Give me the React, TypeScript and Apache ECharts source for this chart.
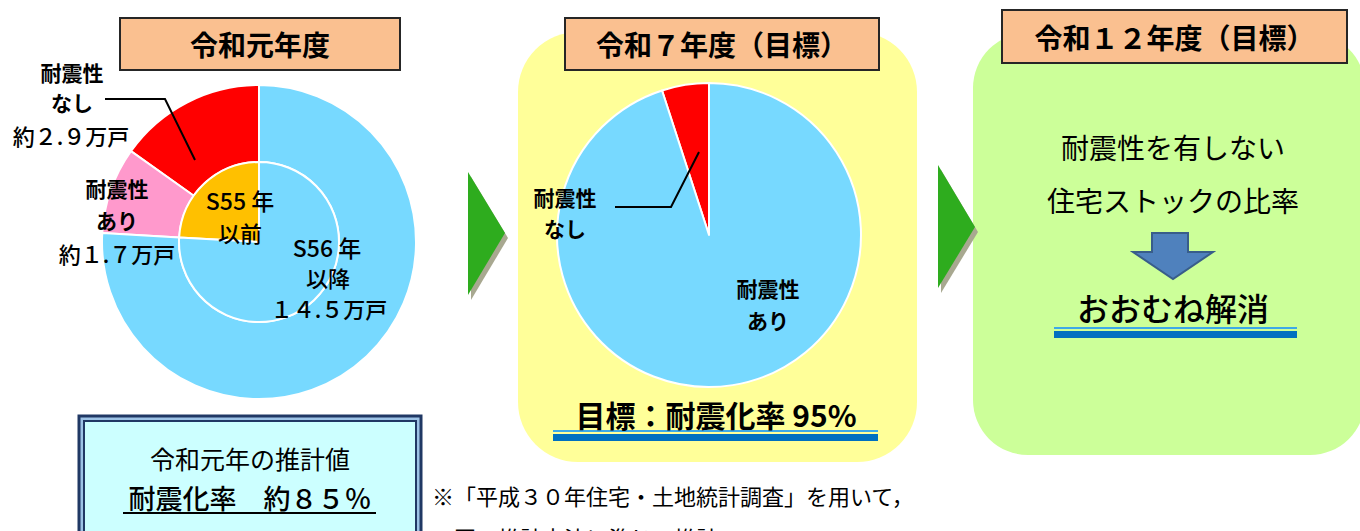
import React, { useEffect, useRef } from "react";
import * as echarts from "echarts";

// ---- data ----
const innerCategories = ["S55年以前", "S56年以降"];
const innerValues = [4.6, 14.5];
const outerCategories = ["耐震性なし", "耐震性あり", "S56年以降"];
const outerValues = [2.9, 1.7, 14.5];
const targetCategories = ["耐震性なし", "耐震性あり"];
const targetValues = [5, 95];

const panelTitles = ["令和元年度", "令和７年度（目標）", "令和１２年度（目標）"];
const leftLabels = ["耐震性", "なし", "約２.９万戸", "耐震性", "あり", "約１.７万戸", "S55 年", "以前", "S56 年", "以降", "１４.５万戸"];
const midLabels = ["耐震性", "なし", "耐震性", "あり", "目標：耐震化率 95%"];
const rightLabels = ["耐震性を有しない", "住宅ストックの比率", "おおむね解消"];
const boxLabels = ["令和元年の推計値", "耐震化率　約８５％"];
const noteLines = ["※「平成３０年住宅・土地統計調査」を用いて，", "　国の推計方法に準じて推計"];

const FONT = "'Noto Sans CJK JP', 'Noto Sans', sans-serif";
const C_BLUE = "#77D9FF";
const C_RED = "#FF0000";
const C_PINK = "#FF99CC";
const C_ORANGE = "#FFC000";

function txt(text: string, x: number, y: number, size: number, weight: string | number = "normal", align = "center") {
  return {
    type: "text",
    x,
    y,
    z: 20,
    style: {
      text,
      fontSize: size,
      fontWeight: weight,
      fontFamily: FONT,
      fill: "#000",
      align,
      verticalAlign: "middle",
      textAlign: align,
      textVerticalAlign: "middle",
    },
  };
}

function header(x: number, y: number, w: number, h: number, text: string) {
  return [
    {
      type: "rect",
      z: 15,
      shape: { x, y, width: w, height: h },
      style: { fill: "#FAC090", stroke: "#262626", lineWidth: 2 },
    },
    txt(text, x + w / 2, y + h / 2, 28, "bold"),
  ];
}

export default function App() {
  const ref = useRef<HTMLDivElement>(null);
  useEffect(() => {
    document.body.style.margin = "0";
    const chart = echarts.init(ref.current!, null, { renderer: "svg" });
    const graphics: any[] = [
      // background panels
      {
        type: "rect",
        z: 0,
        shape: { x: 518, y: 32, width: 399, height: 430, r: 60 },
        style: { fill: "#FFFF99" },
      },
      {
        type: "rect",
        z: 0,
        shape: { x: 973, y: 33, width: 392, height: 422, r: 55 },
        style: { fill: "#CCFF99" },
      },
      // green arrows with shadow
      {
        type: "polygon",
        z: 1,
        shape: { points: [[471, 177], [508, 238], [471, 300]] },
        style: { fill: "#A8A890" },
      },
      {
        type: "polygon",
        z: 2,
        shape: { points: [[468, 172], [505, 233], [468, 295]] },
        style: { fill: "#2EAC1E" },
      },
      {
        type: "polygon",
        z: 1,
        shape: { points: [[941, 170], [978, 232], [941, 293]] },
        style: { fill: "#A8A890" },
      },
      {
        type: "polygon",
        z: 2,
        shape: { points: [[938, 165], [975, 227], [938, 288]] },
        style: { fill: "#2EAC1E" },
      },
      ...header(120, 18, 280, 52, panelTitles[0]),
      ...header(565, 18, 314, 52, panelTitles[1]),
      ...header(1002, 10, 345, 53, panelTitles[2]),
      // left pie labels
      txt(leftLabels[0], 72, 72, 21, "bold"),
      txt(leftLabels[1], 72, 102, 21, "bold"),
      txt(leftLabels[2], 71, 135, 22, 500),
      txt(leftLabels[3], 117, 188, 21, "bold"),
      txt(leftLabels[4], 117, 220, 21, "bold"),
      txt(leftLabels[5], 117, 253, 22, 500),
      txt(leftLabels[6], 240, 200, 23, 500),
      txt(leftLabels[7], 240, 232, 22, 500),
      txt(leftLabels[8], 327, 247, 23, 500),
      txt(leftLabels[9], 328, 277, 22, 500),
      txt(leftLabels[10], 329, 308, 22, 500),
      {
        type: "polyline",
        z: 20,
        shape: { points: [[105, 99], [165, 99], [195, 160]] },
        style: { stroke: "#000", lineWidth: 2, fill: null },
      },
      // middle labels
      txt(midLabels[0], 565, 197, 21, "bold"),
      txt(midLabels[1], 565, 228, 21, "bold"),
      txt(midLabels[2], 768, 288, 21, "bold"),
      txt(midLabels[3], 768, 320, 21, "bold"),
      {
        type: "polyline",
        z: 20,
        shape: { points: [[615, 207], [671, 207], [699, 152]] },
        style: { stroke: "#000", lineWidth: 2, fill: null },
      },
      txt(midLabels[4], 716, 414, 30, "bold"),
      { type: "rect", z: 5, shape: { x: 553, y: 430, width: 325, height: 2 }, style: { fill: "#3DA9E8" } },
      { type: "rect", z: 5, shape: { x: 553, y: 434, width: 325, height: 7 }, style: { fill: "#0070C0" } },
      // right panel
      txt(rightLabels[0], 1173, 147, 28, "normal"),
      txt(rightLabels[1], 1173, 200, 28, "normal"),
      {
        type: "polygon",
        z: 5,
        shape: {
          points: [[1152, 233], [1188, 233], [1188, 252], [1213, 252], [1173, 279], [1133, 252], [1152, 252]],
        },
        style: { fill: "#4F81BD", stroke: "#385D8A", lineWidth: 2 },
      },
      txt(rightLabels[2], 1173, 307, 32, 500),
      { type: "rect", z: 5, shape: { x: 1054, y: 327, width: 243, height: 2 }, style: { fill: "#3DA9E8" } },
      { type: "rect", z: 5, shape: { x: 1054, y: 331, width: 243, height: 7 }, style: { fill: "#0070C0" } },
      // bottom-left box
      {
        type: "rect",
        z: 5,
        shape: { x: 79, y: 416, width: 342, height: 200 },
        style: { fill: "#9DC3E6", stroke: "#203864", lineWidth: 3 },
      },
      {
        type: "rect",
        z: 6,
        shape: { x: 84, y: 421, width: 332, height: 190 },
        style: { fill: "#CCFFFF", stroke: "#203864", lineWidth: 2 },
      },
      txt(boxLabels[0], 250, 458, 25, "normal"),
      txt(boxLabels[1], 250, 497, 27, 500),
      {
        type: "line",
        z: 20,
        shape: { x1: 123, y1: 513, x2: 376, y2: 513 },
        style: { stroke: "#000", lineWidth: 2 },
      },
      // note
      txt(noteLines[0], 432, 495, 22, "normal", "left"),
      txt(noteLines[1], 432, 537, 22, "normal", "left"),
    ];

    chart.setOption({
      animation: false,
      backgroundColor: "#FFFFFF",
      graphic: { elements: graphics },
      series: [
        {
          type: "pie",
          z: 3,
          center: [259, 242],
          radius: [80, 157],
          startAngle: 90,
          clockwise: false,
          silent: true,
          label: { show: false },
          labelLine: { show: false },
          itemStyle: { borderColor: "#FFFFFF", borderWidth: 2 },
          data: outerCategories.map((n, i) => ({
            name: n,
            value: outerValues[i],
            itemStyle: { color: [C_RED, C_PINK, C_BLUE][i] },
          })),
        },
        {
          type: "pie",
          z: 4,
          center: [259, 242],
          radius: [0, 80],
          startAngle: 90,
          clockwise: false,
          silent: true,
          label: { show: false },
          labelLine: { show: false },
          itemStyle: { borderColor: "#FFFFFF", borderWidth: 2 },
          data: innerCategories.map((n, i) => ({
            name: n,
            value: innerValues[i],
            itemStyle: { color: [C_ORANGE, C_BLUE][i] },
          })),
        },
        {
          type: "pie",
          z: 3,
          center: [709, 235],
          radius: [0, 152],
          startAngle: 90,
          clockwise: false,
          silent: true,
          label: { show: false },
          labelLine: { show: false },
          itemStyle: { borderColor: "#FFFFFF", borderWidth: 2 },
          data: targetCategories.map((n, i) => ({
            name: n,
            value: targetValues[i],
            itemStyle: { color: [C_RED, C_BLUE][i] },
          })),
        },
      ],
    });
    return () => chart.dispose();
  }, []);
  return <div ref={ref} style={{ width: 1360, height: 531, position: "absolute", left: 0, top: 0 }} />;
}
